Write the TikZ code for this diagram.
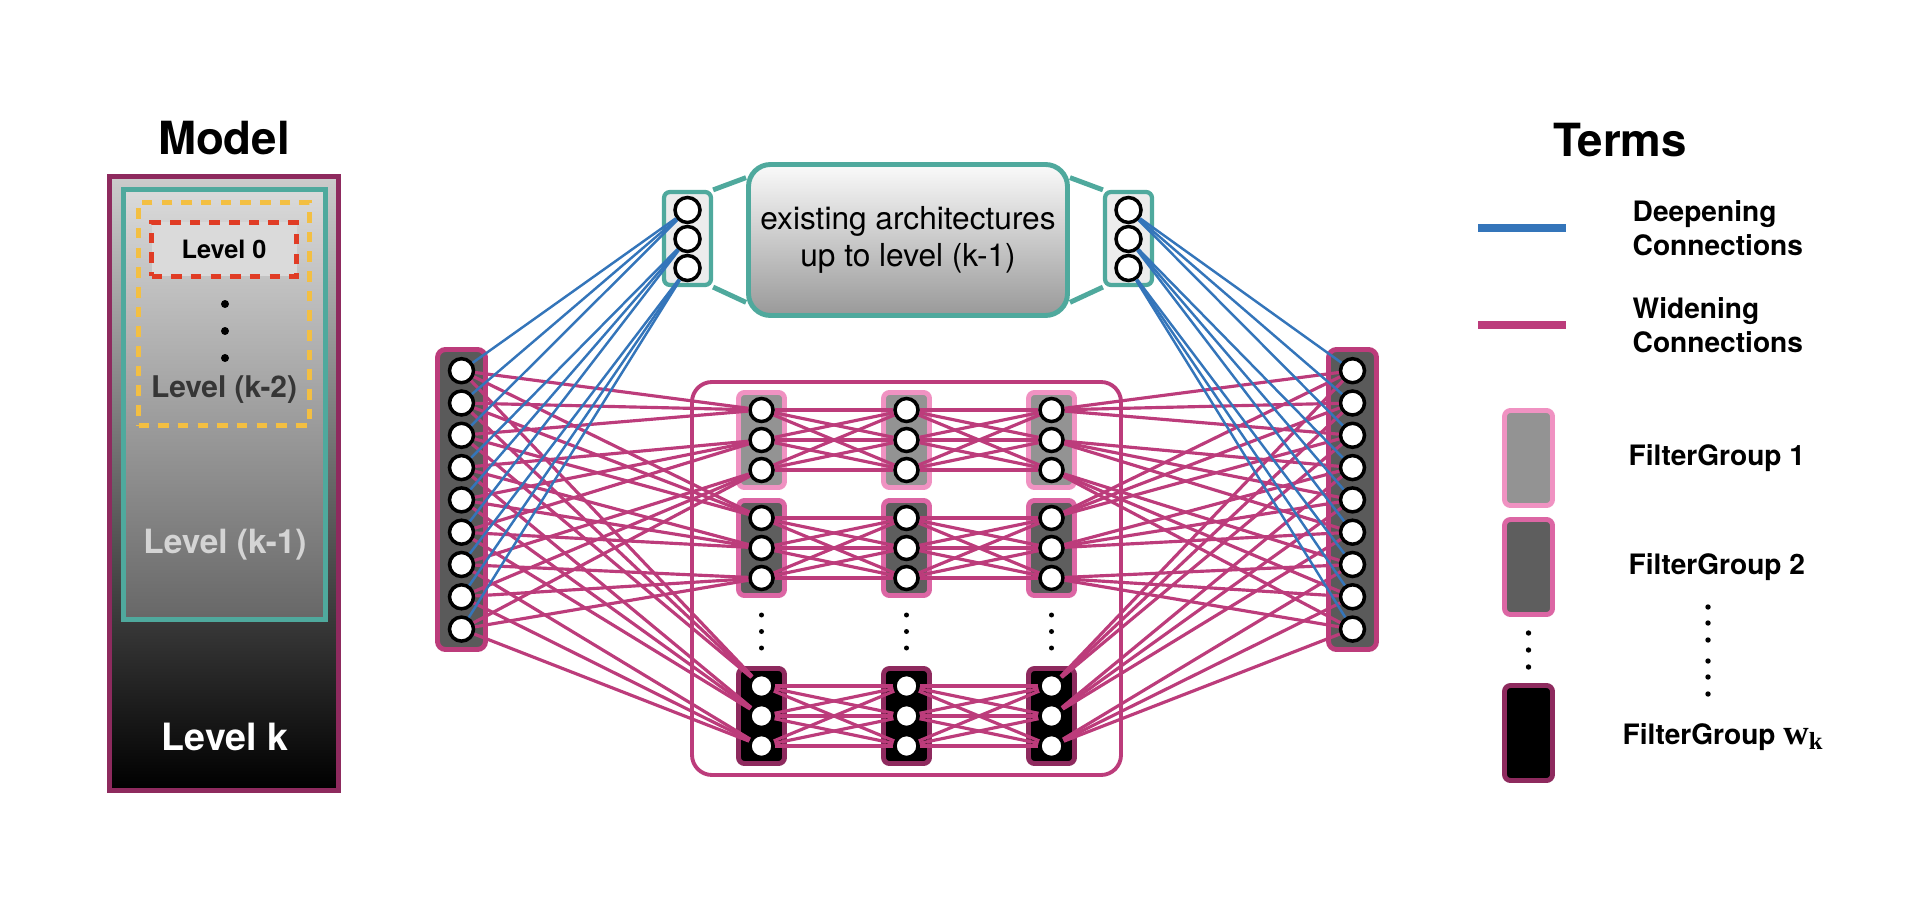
\documentclass[tikz,border=0pt]{standalone}
\usepackage{fontspec}
\setmainfont{TeX Gyre Heros}
\newfontfamily\wkfont{Liberation Serif}
\usepackage{xcolor}
\usepackage{tikz}
\usetikzlibrary{positioning, calc}
\definecolor{plum}{HTML}{8E2A5E}
\definecolor{widen}{HTML}{BC3C7B}
\definecolor{fgpink}{HTML}{F092C2}
\definecolor{fgrose}{HTML}{DC66A4}
\definecolor{tealc}{HTML}{4FA99D}
\definecolor{deepblue}{HTML}{3475BA}
\definecolor{dashyellow}{HTML}{F3BF42}
\definecolor{dashred}{HTML}{E03C25}
\definecolor{fgonefill}{HTML}{939393}
\definecolor{fgtwofill}{HTML}{5E5E5E}
\definecolor{colfill}{HTML}{5A5A5A}
\definecolor{topfill}{HTML}{ECECEC}
\definecolor{archtop}{HTML}{FAFAFA}
\definecolor{archbot}{HTML}{999999}
\definecolor{modeltop}{HTML}{CCCCCC}
\definecolor{prevtop}{HTML}{DADADA}
\definecolor{prevbot}{HTML}{676767}
\definecolor{k2gray}{HTML}{363636}
\definecolor{k1gray}{HTML}{D4D4D4}
\newcommand{\sizedbf}[1]{\bfseries\fontsize{#1}{#1}\selectfont}
\tikzset{
    neuron/.style = {circle, draw=black, fill=white, line width=1pt,
        minimum size=0.24cm, inner sep=0pt},
    fgbox/.style = {rectangle, rounded corners=0.06cm, line width=1.4pt,
        minimum width=0.46cm, minimum height=0.95cm, inner sep=0pt},
    fg_one/.style = {fgbox, draw=fgpink, fill=fgonefill},
    fg_two/.style = {fgbox, draw=fgrose, fill=fgtwofill},
    fg_k/.style = {fgbox, draw=plum, fill=black},
    col_box/.style = {rectangle, rounded corners=0.08cm, draw=widen, fill=colfill,
        line width=1.4pt, minimum width=0.48cm, minimum height=3.0cm},
    wide_box/.style = {rectangle, rounded corners=0.2cm, draw=widen,
        line width=1.1pt, minimum width=4.29cm, minimum height=3.93cm},
    top_box/.style = {rectangle, rounded corners=0.06cm, draw=tealc, fill=topfill,
        line width=1.2pt, minimum width=0.47cm, minimum height=0.93cm},
    arch_box/.style = {rectangle, rounded corners=0.22cm, draw=tealc, line width=1.4pt,
        top color=archtop, bottom color=archbot, minimum width=3.19cm,
        minimum height=1.51cm, align=center, font=\fontsize{9}{10.5}\selectfont},
    model_box/.style = {rectangle, draw=plum, line width=1.4pt, top color=modeltop,
        bottom color=black, minimum width=2.29cm, minimum height=6.14cm},
    prev_box/.style = {rectangle, draw=tealc, line width=1.6pt, top color=prevtop,
        bottom color=prevbot, minimum width=2.02cm, minimum height=4.30cm},
    dash_box/.style = {rectangle, line width=1.3pt, dash pattern=on 3pt off 2.6pt,
        minimum width=1.71cm, minimum height=2.23cm},
    teal_line/.style = {draw=tealc, line width=1.4pt},
    deep_line/.style = {draw=deepblue, line width=0.7pt},
    wide_line/.style = {draw=widen, line width=0.9pt},
    title_text/.style = {font=\sizedbf{13}, inner sep=0pt},
    leg_text/.style = {font=\bfseries\fontsize{8}{9.7}\selectfont, align=left, inner sep=0pt},
}

\begin{document}
\begin{tikzpicture}
    \useasboundingbox (0,0) rectangle (19.2,9);
    % model levels
    \node (model) [model_box] at (2.24,4.165) {};
    \node (lvl_k1) [prev_box] at (2.245,4.955) {};
    \node (lvl_k2) [dash_box, draw=dashyellow] at (2.24,5.86) {};
    \node (lvl_0) [dash_box, draw=dashred, fill=prevtop, minimum width=1.45cm,
        minimum height=0.54cm, font=\sizedbf{7.2}] at (2.24,6.505) {Level 0};
    \foreach \y in {5.96,5.69,5.42}
        \fill (2.25,\y) circle (0.04);
    \node [font=\sizedbf{8.5}, text=k2gray] at (2.24,5.10) {Level (k-2)};
    \node [font=\sizedbf{9.5}, text=k1gray] at (2.25,3.55) {Level (k-1)};
    \node [font=\sizedbf{10.7}, text=white] at (2.25,1.63) {Level k};
    \node [title_text, above=0.18cm of model] {Model};

    % existing architecture
    \node (arch) [arch_box] at (9.08,6.60) {existing architectures\\up to level (k-1)};
    \node (in_top) [top_box] at (6.875,6.615) {};
    \node (out_top) [top_box] at (11.285,6.615) {};
    \foreach \i in {1,2,3} {
        \node (in\i) [neuron, minimum size=0.25cm] at (6.875,{6.90-0.29*(\i-1)}) {};
        \node (out\i) [neuron, minimum size=0.25cm] at (11.285,{6.90-0.29*(\i-1)}) {};
    }
    \draw [teal_line] (in_top.north east) -- ($(arch.north west)!0.1!(arch.south west)$);
    \draw [teal_line] (in_top.south east) -- ($(arch.south west)!0.1!(arch.north west)$);
    \draw [teal_line] (out_top.north west) -- ($(arch.north east)!0.1!(arch.south east)$);
    \draw [teal_line] (out_top.south west) -- ($(arch.south east)!0.1!(arch.north east)$);

    % input and output columns
    \node (in_col) [col_box] at (4.615,4.005) {};
    \node (out_col) [col_box] at (13.525,4.005) {};
    \foreach \j in {1,...,9} {
        \node (l\j) [neuron] at (4.615,{5.293-0.323*(\j-1)}) {};
        \node (r\j) [neuron] at (13.525,{5.293-0.323*(\j-1)}) {};
    }

    % filter groups
    \node (widening) [wide_box] at (9.065,3.215) {};
    \foreach \c/\x in {1/7.615,2/9.065,3/10.515} {
        \foreach \r/\y/\fg in {1/4.60/fg_one,2/3.52/fg_two,3/1.84/fg_k} {
            \node (b\c\r) [\fg] at (\x,\y) {};
            \foreach \k in {1,2,3}
                \node (g\c\r\k) [neuron, minimum size=0.23cm] at (\x,{\y+0.30*(2-\k)}) {};
        }
        \foreach \y in {2.85,2.685,2.52}
            \fill (\x,\y) circle (0.025);
    }

    % deepening and widening connections
    \foreach \j in {1,...,9} {
        \pgfmathtruncatemacro{\k}{(\j+2)/3}
        \draw [deep_line] (in\k) -- (l\j);
        \draw [deep_line] (out\k) -- (r\j);
        \foreach \r in {1,2,3} {
            \draw [wide_line] (l\j) -- (g1\r\k);
            \draw [wide_line] (g3\r\k) -- (r\j);
        }
    }
    \foreach \r in {1,2,3}
        \foreach \a in {1,2,3}
            \foreach \b in {1,2,3} {
                \draw [wide_line] (g1\r\a) -- (g2\r\b);
                \draw [wide_line] (g2\r\a) -- (g3\r\b);
            }

    % terms
    \node [title_text] at (16.20,7.60) {Terms};
    \coordinate (deep_a) at (14.78,6.72);
    \coordinate (deep_b) at (15.66,6.72);
    \draw [deep_line, line width=2pt] (deep_a) -- (deep_b);
    \node [leg_text, right=0.66cm of deep_b] {Deepening\\Connections};
    \coordinate (wide_a) at (14.78,5.75);
    \coordinate (wide_b) at (15.66,5.75);
    \draw [wide_line, line width=2pt] (wide_a) -- (wide_b);
    \node [leg_text, right=0.66cm of wide_b] {Widening\\Connections};
    \node (key_one) [fg_one, minimum width=0.48cm] at (15.285,4.42) {};
    \node (key_two) [fg_two, minimum width=0.48cm] at (15.285,3.33) {};
    \node (key_k) [fg_k, minimum width=0.48cm] at (15.285,1.67) {};
    \foreach \y in {2.67,2.50,2.33}
        \fill (15.285,\y) circle (0.027);
    \node [leg_text, right=0.73cm of key_one] {FilterGroup 1};
    \node [leg_text, right=0.73cm of key_two] {FilterGroup 2};
    \foreach \y in {2.93,2.77,2.60,2.39,2.23,2.06}
        \fill (17.08,\y) circle (0.027);
    \node [leg_text, right=0.67cm of key_k, yshift=-0.04cm]
        {FilterGroup {\wkfont\fontsize{10}{10}\selectfont w\textsubscript{k}}};
\end{tikzpicture}
\end{document}
